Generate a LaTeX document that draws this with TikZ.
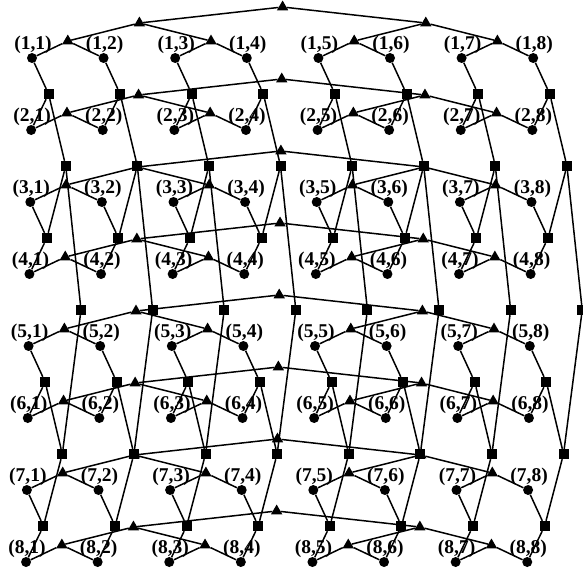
\documentclass[tikz,border=0pt]{standalone}
\usepackage{fontspec}
\setmainfont{Liberation Serif}
\usetikzlibrary{calc,shapes.geometric}
\begin{document}
\begin{tikzpicture}[x=1pt, y=-1pt,
  leaf/.style={circle, fill, inner sep=0pt, minimum size=10pt},
  rowsw/.style={regular polygon, regular polygon sides=3, fill, inner sep=0pt, minimum size=13pt},
  colsw/.style={rectangle, fill, inner sep=0pt, minimum size=10pt},
  lab/.style={font=\bfseries\fontsize{19.5}{19.5}\selectfont, inner sep=0pt},
  link/.style={line width=1.5pt}]
  \useasboundingbox (0,0) rectangle (583,570);
  \clip (0,0) rectangle (583,570);
  % processors and their labels
  \foreach \i in {1,...,8}
    \foreach \j in {1,...,8} {
      \pgfmathsetmacro\px{32+71.6*(\j-1)-0.85*(\i-1)}
      \pgfmathsetmacro\py{58+72*(\i-1)}
      \node[leaf] (c-\i-\j) at (\px,\py) {};
      \node[lab] (l-\i-\j) at (\px+1,\py-13) {(\i,\j)};
    }

  % row trees
  \foreach \i in {1,...,8} {
    \foreach \k in {1,...,4} {
      \pgfmathtruncatemacro\lft{2*\k-1}
      \pgfmathtruncatemacro\rgt{2*\k}
      \node[rowsw] (t-\i-\k) at ($(c-\i-\lft)!0.5!(c-\i-\rgt)+(0,-17)$) {};
      \draw[link] (c-\i-\lft) -- (t-\i-\k) -- (c-\i-\rgt);
    }
    \foreach \m in {1,2} {
      \pgfmathtruncatemacro\lft{4*\m-2}
      \pgfmathtruncatemacro\rgt{4*\m-1}
      \pgfmathtruncatemacro\lsub{2*\m-1}
      \pgfmathtruncatemacro\rsub{2*\m}
      \node[rowsw] (u-\i-\m) at ($(c-\i-\lft)!0.5!(c-\i-\rgt)+(0,-35)$) {};
      \draw[link] (t-\i-\lsub) -- (u-\i-\m) -- (t-\i-\rsub);
    }
    \node[rowsw] (r-\i) at ($(c-\i-4)!0.5!(c-\i-5)+(0,-51)$) {};
    \draw[link] (u-\i-1) -- (r-\i) -- (u-\i-2);
  }

  % column trees
  \foreach \j in {1,...,8} {
    \foreach \k in {1,...,4} {
      \pgfmathtruncatemacro\lft{2*\k-1}
      \pgfmathtruncatemacro\rgt{2*\k}
      \node[colsw] (p-\j-\k) at ($(c-\lft-\j)!0.5!(c-\rgt-\j)+(17,0)$) {};
      \draw[link] (c-\lft-\j) -- (p-\j-\k) -- (c-\rgt-\j);
    }
    \foreach \m in {1,2} {
      \pgfmathtruncatemacro\lft{4*\m-2}
      \pgfmathtruncatemacro\rgt{4*\m-1}
      \pgfmathtruncatemacro\lsub{2*\m-1}
      \pgfmathtruncatemacro\rsub{2*\m}
      \node[colsw] (q-\j-\m) at ($(c-\lft-\j)!0.5!(c-\rgt-\j)+(35,0)$) {};
      \draw[link] (p-\j-\lsub) -- (q-\j-\m) -- (p-\j-\rsub);
    }
    \node[colsw] (v-\j) at ($(c-4-\j)!0.5!(c-5-\j)+(52,0)$) {};
    \draw[link] (q-\j-1) -- (v-\j) -- (q-\j-2);
  }
\end{tikzpicture}
\end{document}
